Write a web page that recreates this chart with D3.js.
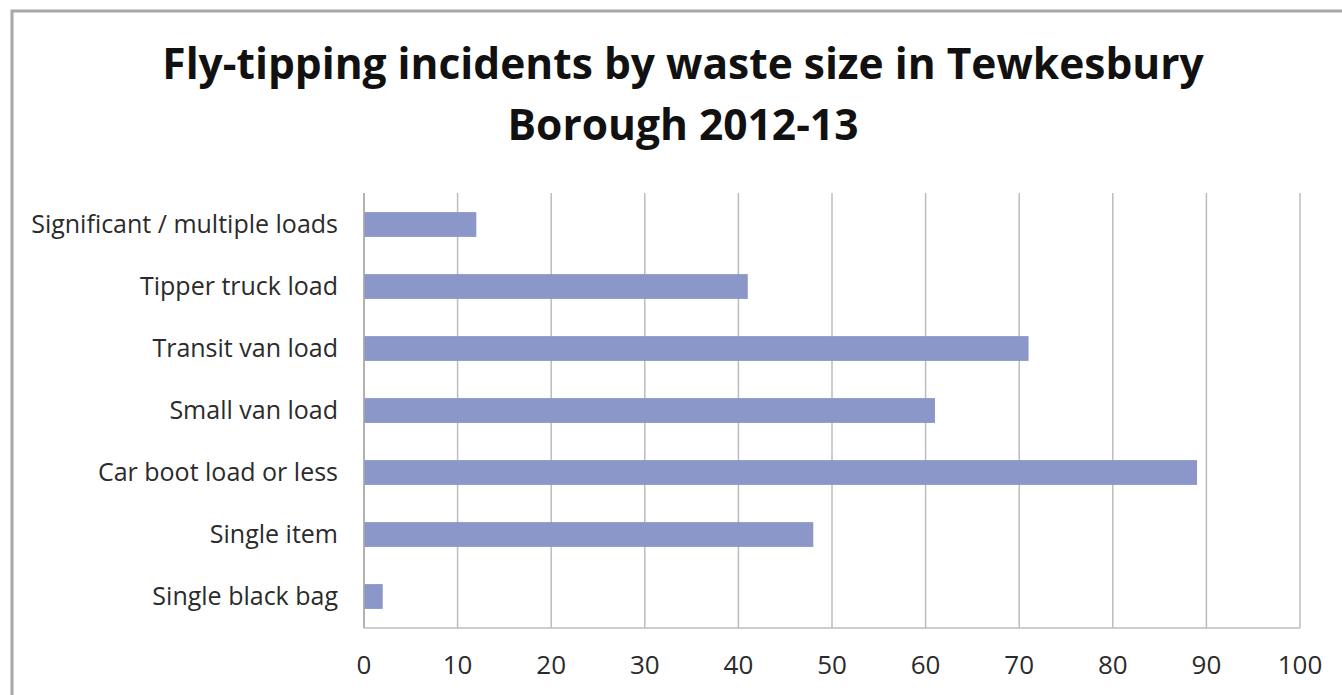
<!DOCTYPE html>
<html lang="en">
<head>
    <meta charset="UTF-8">
    <title>Fly-tipping incidents</title>
    <style>
        body {
            margin: 0;
            background: #fff;
            font-family: "Open Sans", sans-serif;
        }
        svg {
            display: block;
        }
    </style>
    <script src="https://d3js.org/d3.v7.min.js"></script>
</head>
<body>
<script>
    // chart data, top to bottom as drawn
    const categories = [
        "Significant / multiple loads",
        "Tipper truck load",
        "Transit van load",
        "Small van load",
        "Car boot load or less",
        "Single item",
        "Single black bag"
    ];
    const incidents = [12, 41, 71, 61, 89, 48, 2];
    const xTicks = [0, 10, 20, 30, 40, 50, 60, 70, 80, 90, 100];
    const titleLines = ["Fly-tipping incidents by waste size in Tewkesbury", "Borough 2012-13"];

    const width = 1342, height = 695;
    const svg = d3.select("body").append("svg")
        .attr("width", width)
        .attr("height", height);

    // outer chart frame (runs off the right and bottom edges)
    svg.append("rect")
        .attr("x", 12).attr("y", 11)
        .attr("width", 1400).attr("height", 800)
        .attr("fill", "none")
        .attr("stroke", "#a8a8a8")
        .attr("stroke-width", 3);

    // title
    const title = svg.append("text")
        .attr("text-anchor", "middle")
        .attr("font-weight", "bold")
        .attr("font-size", 42.5)
        .attr("fill", "#111");
    title.selectAll("tspan")
        .data(titleLines)
        .enter()
        .append("tspan")
        .attr("x", 683)
        .attr("y", (d, i) => 79 + i * 61)
        .text(d => d);

    const x = d3.scaleLinear()
        .domain([0, 100])
        .range([364, 1300]);

    const y = d3.scaleBand()
        .domain(categories)
        .range([193.5, 627.5])
        .paddingInner(0.6)
        .paddingOuter(0.3);

    // vertical gridlines
    svg.append("g")
        .selectAll("line")
        .data(xTicks)
        .enter()
        .append("line")
        .attr("x1", d => x(d)).attr("x2", d => x(d))
        .attr("y1", 193).attr("y2", 628)
        .attr("stroke", "#bcbcbc")
        .attr("stroke-width", 1.5);

    // bottom axis line
    svg.append("line")
        .attr("x1", x(0)).attr("x2", x(100))
        .attr("y1", 628).attr("y2", 628)
        .attr("stroke", "#bcbcbc")
        .attr("stroke-width", 1.5);

    // bars
    svg.append("g")
        .selectAll("rect")
        .data(categories)
        .enter()
        .append("rect")
        .attr("x", x(0))
        .attr("y", d => y(d))
        .attr("width", (d, i) => x(incidents[i]) - x(0))
        .attr("height", y.bandwidth())
        .attr("fill", "#8a97c8");

    // left axis line drawn on top of bars
    svg.append("line")
        .attr("x1", x(0)).attr("x2", x(0))
        .attr("y1", 193).attr("y2", 628)
        .attr("stroke", "#a8a8a8")
        .attr("stroke-width", 1.5);

    // category labels
    svg.append("g")
        .selectAll("text")
        .data(categories)
        .enter()
        .append("text")
        .attr("x", 338)
        .attr("y", d => y(d) + y.bandwidth() / 2)
        .attr("dy", "0.35em")
        .attr("text-anchor", "end")
        .attr("font-size", 25)
        .attr("fill", "#2b2b2b")
        .text(d => d);

    // x tick labels
    svg.append("g")
        .selectAll("text")
        .data(xTicks)
        .enter()
        .append("text")
        .attr("x", d => x(d))
        .attr("y", 674)
        .attr("text-anchor", "middle")
        .attr("font-size", 26)
        .attr("fill", "#2b2b2b")
        .text(d => d);
</script>
</body>
</html>
